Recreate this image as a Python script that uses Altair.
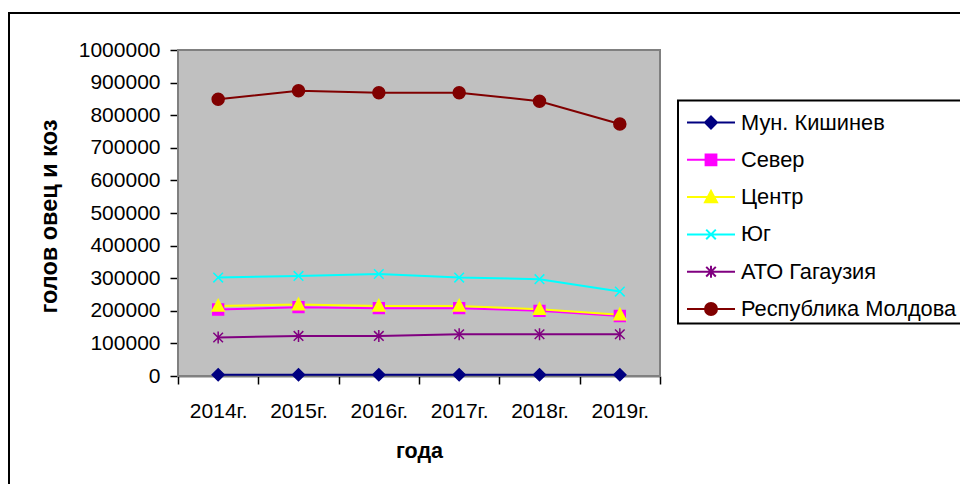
import json
import altair as alt
import pandas as pd

# ---- data ----
years = ["2014г.", "2015г.", "2016г.", "2017г.", "2018г.", "2019г."]
series = ["Мун. Кишинев", "Север", "Центр", "Юг", "АТО Гагаузия", "Республика Молдова"]
chisinau = [4000, 4000, 4000, 4000, 4000, 4000]
sever = [204000, 211000, 208000, 208000, 200000, 184000]
centr = [215000, 219000, 215000, 215000, 205000, 188000]
yug = [302000, 307000, 313000, 302000, 297000, 259000]
gagauz = [118000, 123000, 123000, 128000, 128000, 128000]
moldova = [849000, 875000, 869000, 869000, 843000, 773000]
y_ticks = [0, 100000, 200000, 300000, 400000, 500000, 600000, 700000, 800000, 900000, 1000000]

colors = ["#000080", "#FF00FF", "#FFFF00", "#00FFFF", "#800080", "#800000"]

# marker shapes (unit box) for the plotted points
marker_paths = [
    "M0,-1L1,0L0,1L-1,0Z",
    "M-0.9,-0.9H0.9V0.9H-0.9Z",
    "M0,-1.05L1,0.85H-1Z",
    "M-0.8,-0.8L0.8,0.8M-0.8,0.8L0.8,-0.8",
    "M-0.8,-0.8L0.8,0.8M-0.8,0.8L0.8,-0.8M0,-1V1",
    "circle",
]
# legend symbols: a line through the marker
legend_paths = [
    "M-2,0H2M0,-0.5L0.5,0L0,0.5L-0.5,0Z",
    "M-2,0H2M-0.45,-0.45H0.45V0.45H-0.45Z",
    "M-2,0H2M0,-0.52L0.5,0.42H-0.5Z",
    "M-2,0H2M-0.4,-0.4L0.4,0.4M-0.4,0.4L0.4,-0.4",
    "M-2,0H2M-0.4,-0.4L0.4,0.4M-0.4,0.4L0.4,-0.4M0,-0.5V0.5",
    "M-2,0H2M0.5,0A0.5,0.5,0,1,1,-0.5,0A0.5,0.5,0,1,1,0.5,0Z",
]

values = [chisinau, sever, centr, yug, gagauz, moldova]
rows = []
for s, vals in zip(series, values):
    for i, (yr, v) in enumerate(zip(years, vals)):
        rows.append({"series": s, "year": yr, "pos": i + 0.5, "value": v})
df = pd.DataFrame(rows)

FONT = "Liberation Sans"
W, H = 482, 326
x_vals = [k / 2 for k in range(0, 13)]
years_js = json.dumps(years, ensure_ascii=False)

x_enc = alt.X(
    "pos:Q",
    scale=alt.Scale(domain=[0, 6], nice=False, zero=False),
    axis=alt.Axis(
        values=x_vals,
        labelExpr=f"datum.value % 1 == 0 ? '' : {years_js}[floor(datum.value)]",
        tickOpacity={"condition": {"test": "datum.value % 1 != 0", "value": 0}, "value": 1},
        grid=False,
        tickSize=8,
        tickWidth=1.5,
        tickColor="black",
        domainColor="black",
        domainWidth=1.5,
        labelFont=FONT,
        labelFontSize=21,
        labelColor="black",
        labelPadding=16,
        labelFlush=False,
        labelOverlap=False,
        title="года",
        titleFont=FONT,
        titleFontSize=21.5,
        titleFontWeight="bold",
        titleColor="black",
        titleX=241,
        titleY=75,
        titleBaseline="middle",
        titleAlign="center",
    ),
)

y_enc = alt.Y(
    "value:Q",
    scale=alt.Scale(domain=[0, 1000000], nice=False),
    axis=alt.Axis(
        values=y_ticks,
        format="d",
        grid=True,
        gridColor="black",
        gridWidth=1.2,
        gridOpacity={"condition": {"test": "datum.value == 1000000 || datum.value == 0", "value": 0}, "value": 1},
        tickSize=8,
        tickWidth=1.5,
        tickColor="black",
        domainColor="black",
        domainWidth=1.5,
        labelFont=FONT,
        labelFontSize=21,
        labelColor="black",
        labelPadding=10,
        title="голов овец и коз",
        titleFont=FONT,
        titleFontSize=23.5,
        titleFontWeight="bold",
        titleColor="black",
        titleX=-129,
        titleY=166,
        titleBaseline="middle",
        titleAlign="center",
    ),
)

base = alt.Chart(df)
one = pd.DataFrame({"k": [0]})

plot_bg = alt.Chart(one).mark_rect(
    fill="#C0C0C0", stroke="#808080", strokeWidth=2
).encode(x=alt.value(0), x2=alt.value(W), y=alt.value(0), y2=alt.value(H))

# legend border (its right side runs past the picture edge, as in the reference)
legend_box = alt.Chart(one).mark_rect(
    filled=False, stroke="black", strokeWidth=2
).encode(x=alt.value(500), x2=alt.value(1000), y=alt.value(50.5), y2=alt.value(273.5))

lines = base.mark_line(strokeWidth=2).encode(
    x=x_enc,
    y=y_enc,
    color=alt.Color("series:N", scale=alt.Scale(domain=series, range=colors), legend=None),
)

points = base.mark_point(filled=True, size=144, opacity=1, strokeWidth=1.5).encode(
    x=x_enc,
    y=y_enc,
    fill=alt.Fill("series:N", scale=alt.Scale(domain=series, range=colors), legend=None),
    stroke=alt.Stroke("series:N", scale=alt.Scale(domain=series, range=colors), legend=None),
    shape=alt.Shape("series:N", scale=alt.Scale(domain=series, range=marker_paths), legend=None),
)

leg = alt.Legend(
    orient="none",
    legendX=500,
    legendY=50.5,
    title=None,
    symbolSize=576,
    symbolStrokeWidth=2,
    symbolOffset=11,
    labelOffset=17,
    labelFont=FONT,
    labelFontSize=21.8,
    labelColor="black",
    padding=9,
    rowPadding=12.3,
    labelLimit=400,
)

legend_layer = base.transform_filter("false").mark_point(filled=True, opacity=1).encode(
    x=x_enc,
    y=y_enc,
    fill=alt.Fill("series:N", scale=alt.Scale(domain=series, range=colors), legend=leg),
    stroke=alt.Stroke("series:N", scale=alt.Scale(domain=series, range=colors), legend=leg),
    shape=alt.Shape("series:N", scale=alt.Scale(domain=series, range=legend_paths), legend=leg),
)

frame = alt.Chart(one).mark_rect(
    filled=False, stroke="black", strokeWidth=2
).encode(
    x=alt.value(-169), x2=alt.value(2000), y=alt.value(-37), y2=alt.value(2000)
)

chart = (
    alt.layer(frame, plot_bg, legend_box, lines, points, legend_layer)
    .resolve_scale(fill="independent", stroke="independent", shape="independent")
    .properties(
        width=W,
        height=H,
        padding={"left": 170, "top": 42, "right": 300, "bottom": 108},
        autosize="none",
        background="white",
    )
    .configure_view(stroke=None)
    .configure(font=FONT)
)

chart.save("out.html", embed_options={"renderer": "svg", "actions": False})
